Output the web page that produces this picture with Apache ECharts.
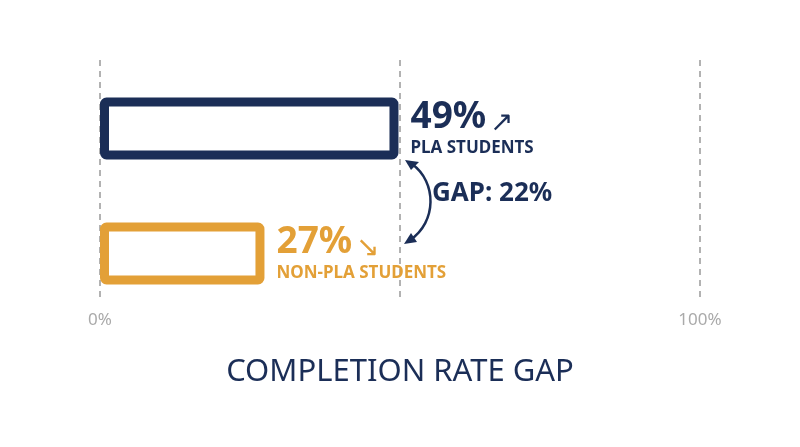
<!DOCTYPE html>
<html><head><meta charset="utf-8">
<script src="https://cdn.jsdelivr.net/npm/echarts@6/dist/echarts.min.js"></script>
<style>html,body{margin:0;background:#fff}#c{width:800px;height:447px}</style>
</head><body><div id="c"></div>
<script>
const categories = ['NON-PLA STUDENTS', 'PLA STUDENTS'];
const values = [27, 49];
const pcts = ['27%', '49%'];
const arrows = ['↘', '↗'];
const gapLabel = 'GAP: 22%';
const title = 'COMPLETION RATE GAP';
const NAVY = '#1b2e57', ORANGE = '#e3a037';
const colors = [ORANGE, NAVY];
const chart = echarts.init(document.getElementById('c'));
const F = '"Noto Sans", "Open Sans", sans-serif';
chart.setOption({
  animation: false,
  grid: [
    {left: 100, right: 100, top: 60, bottom: 147},
    {left: 100, right: 100, top: 66, bottom: 131}
  ],
  xAxis: [
    {gridIndex: 0, type: 'value', min: 0, max: 100, interval: 50,
     axisLine: {show: false}, axisTick: {show: false},
     splitLine: {show: true, lineStyle: {type: [6, 5], color: '#999', width: 1.5}},
     axisLabel: {margin: 12, fontFamily: F, fontSize: 17, color: '#aaa',
       formatter: v => v === 50 ? '' : v + '%'}},
    {gridIndex: 1, type: 'value', min: 0, max: 98.5, show: false}
  ],
  yAxis: [
    {gridIndex: 0, type: 'value', show: false},
    {gridIndex: 1, type: 'category', data: categories, show: false}
  ],
  title: {text: title, left: 'center', top: 352,
    textStyle: {fontFamily: F, fontSize: 31, fontWeight: 'normal', color: NAVY}},
  series: [{
    type: 'bar', xAxisIndex: 1, yAxisIndex: 1, barWidth: 62,
    data: values.map((v, i) => ({value: v,
      itemStyle: {color: '#fff', borderColor: colors[i], borderWidth: 9, borderRadius: 2},
      label: {show: true, position: 'right', distance: 12,
        formatter: '{a|' + pcts[i] + '} {r|' + arrows[i] + '}\n{b|' + categories[i] + '}',
        rich: {
          a: {fontFamily: F, fontWeight: 'bold', fontSize: 37, color: colors[i], lineHeight: 40},
          r: {fontSize: 28, color: colors[i], verticalAlign: 'bottom'},
          b: {fontFamily: F, fontWeight: 'bold', fontSize: 17, color: colors[i], lineHeight: 22}
        }}}))
  }],
  graphic: [
    {type: 'bezierCurve', shape: {x1: 412, y1: 164, cpx1: 437, cpy1: 182, cpx2: 437, cpy2: 222, x2: 410, y2: 240},
     style: {stroke: NAVY, lineWidth: 2.5, fill: null}},
    {type: 'polygon', shape: {points: [[405, 160], [419, 162], [411, 170]]}, style: {fill: NAVY}},
    {type: 'polygon', shape: {points: [[404, 244], [411, 233], [417, 242]]}, style: {fill: NAVY}},
    {type: 'text', left: 432, top: 181,
     style: {text: gapLabel, fontFamily: F, fontWeight: 'bold', fontSize: 26, fill: NAVY}}
  ]
});
</script></body></html>
